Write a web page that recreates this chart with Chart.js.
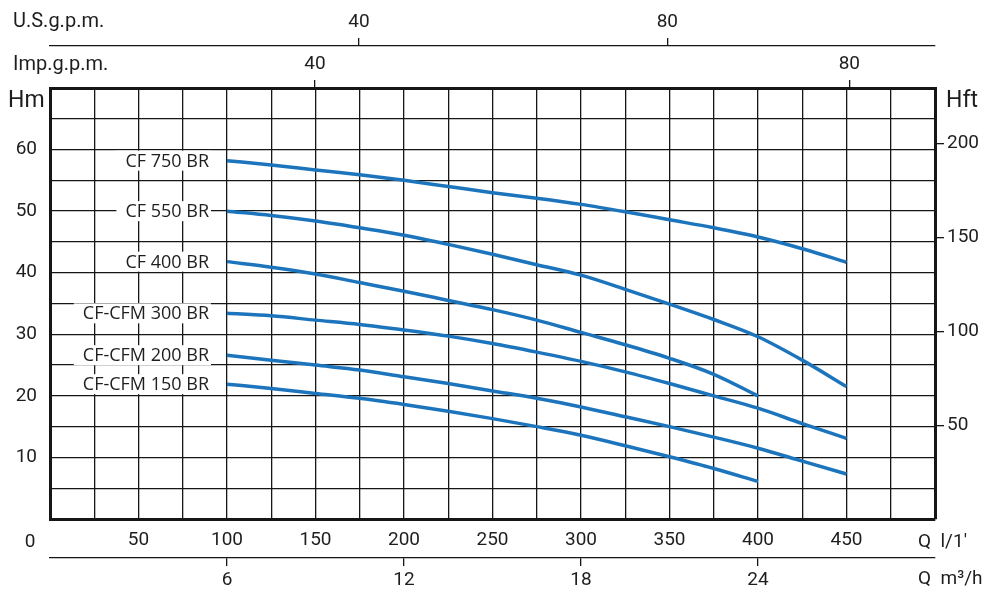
<html>
    <head>
        <style>
            body { margin: 0; background: #fff; }
            #wrap { width: 1001px; height: 599px; position: relative; }
        </style>
    </head>
    <body>
        <div id="wrap">
            <canvas id="pumpChart"></canvas>
        </div>
        <script src="https://cdn.jsdelivr.net/npm/chart.js@4.4.1/dist/chart.umd.min.js"></script>
        <script>
            // flow in l/min, head in m
            const flowLpm = [100, 125, 150, 175, 200, 225, 250, 275, 300, 325, 350, 375, 400, 425, 450];
            const models = [
                "CF 750 BR",
                "CF 550 BR",
                "CF 400 BR",
                "CF-CFM 300 BR",
                "CF-CFM 200 BR",
                "CF-CFM 150 BR"
            ];
            const headCF750 = [58.2, 57.5, 56.7, 55.9, 55.0, 54.0, 53.0, 52.1, 51.1, 49.9, 48.6, 47.3, 45.8, 43.9, 41.7];
            const headCF550 = [50.0, 49.3, 48.4, 47.3, 46.1, 44.6, 43.0, 41.3, 39.6, 37.3, 34.9, 32.4, 29.6, 25.8, 21.5];
            const headCF400 = [41.8, 40.9, 39.8, 38.4, 37.0, 35.5, 34.0, 32.3, 30.3, 28.3, 26.1, 23.5, 20.0];
            const headCFM300 = [33.4, 33.0, 32.3, 31.6, 30.7, 29.7, 28.5, 27.1, 25.6, 23.9, 22.0, 20.0, 18.0, 15.5, 13.1];
            const headCFM200 = [26.6, 25.8, 25.0, 24.2, 23.1, 22.0, 20.8, 19.6, 18.2, 16.6, 15.0, 13.3, 11.5, 9.4, 7.3];
            const headCFM150 = [21.9, 21.2, 20.4, 19.6, 18.6, 17.5, 16.3, 15.0, 13.6, 11.9, 10.1, 8.2, 6.1];
            const heads = [headCF750, headCF550, headCF400, headCFM300, headCFM200, headCFM150];

            // tick labels
            const m3hTicks = [6, 12, 18, 24];
            const hftTicks = [50, 100, 150, 200];
            const usGpmTicks = [40, 80];
            const impGpmTicks = [40, 80];

            const lineColor = "rgb(28,117,188)";
            const gridColor = "#161616";
            const tickFont = { family: "Roboto", size: 19 };
            const txtColor = "#1e1e1e";

            const datasets = heads.map((h, i) => ({
                label: models[i],
                data: h.map((v, j) => ({ x: flowLpm[j], y: v })),
                borderColor: lineColor,
                borderWidth: 3.5,
                pointRadius: 0,
                cubicInterpolationMode: "monotone",
                fill: false,
                xAxisID: "x",
                yAxisID: "y"
            }));

            const curveLabels = {
                id: "curveLabels",
                afterDatasetsDraw(chart) {
                    const ctx = chart.ctx;
                    ctx.save();
                    ctx.font = "18px 'Open Sans'";
                    ctx.textBaseline = "middle";
                    ctx.textAlign = "right";
                    chart.data.datasets.forEach((ds, i) => {
                        const p = chart.getDatasetMeta(i).data[0];
                        const right = p.x - 18;
                        const w = ctx.measureText(ds.label).width;
                        ctx.fillStyle = "#fff";
                        ctx.fillRect(right - w - 9, p.y - 10, w + 11, 20);
                        ctx.fillStyle = txtColor;
                        ctx.fillText(ds.label, right, p.y + 1);
                    });
                    ctx.restore();
                }
            };

            const axisTexts = {
                id: "axisTexts",
                afterDraw(chart) {
                    const ctx = chart.ctx;
                    ctx.save();
                    ctx.fillStyle = txtColor;
                    ctx.textBaseline = "middle";
                    ctx.textAlign = "left";
                    ctx.font = "20px Roboto";
                    ctx.fillText("U.S.g.p.m.", 13, 22);
                    ctx.fillText("Imp.g.p.m.", 13, 65);
                    ctx.font = "23px Roboto";
                    ctx.fillText("Hm", 8, 101);
                    ctx.fillText("Hft", 946, 101);
                    ctx.font = "19px Roboto";
                    ctx.textAlign = "center";
                    ctx.fillText("0", 30, 542);
                    ctx.textAlign = "left";
                    ctx.fillText("Q  l/1'", 918, 542);
                    ctx.fillText("Q  m\u00b3/h", 918, 579);
                    ctx.restore();
                }
            };

            const setTicks = (vals) => (scale) => { scale.ticks = vals.map(v => ({ value: v })); };

            new Chart("pumpChart", {
                type: "line",
                data: { datasets: datasets },
                plugins: [curveLabels, axisTexts],
                options: {
                    responsive: true,
                    maintainAspectRatio: false,
                    animation: false,
                    layout: { padding: 0 },
                    plugins: { legend: { display: false }, tooltip: { enabled: false } },
                    scales: {
                        x: {
                            type: "linear", position: "bottom", weight: 0, min: 0, max: 500,
                            afterFit: s => { s.height = 39; },
                            grid: { color: gridColor, lineWidth: 1.3, drawTicks: false },
                            border: { color: gridColor, width: 3 },
                            ticks: {
                                stepSize: 25, autoSkip: false, maxRotation: 0, padding: 10,
                                color: txtColor, font: tickFont,
                                callback: v => (v % 50 === 0 && v > 0 && v < 500) ? v : ""
                            }
                        },
                        xm3h: {
                            type: "linear", position: "bottom", weight: 1, min: 0, max: 30,
                            afterFit: s => { s.height = 41; },
                            afterBuildTicks: setTicks(m3hTicks),
                            grid: { drawOnChartArea: false, color: gridColor, lineWidth: 1.3, tickLength: 8 },
                            border: { color: gridColor, width: 1.3 },
                            ticks: { autoSkip: false, maxRotation: 0, padding: 3, color: txtColor, font: tickFont }
                        },
                        ximp: {
                            type: "linear", position: "top", weight: 0, min: 20.16, max: 86.41,
                            afterFit: s => { s.height = 42; },
                            afterBuildTicks: setTicks(impGpmTicks),
                            grid: { drawOnChartArea: false, color: gridColor, lineWidth: 1.3, tickLength: 8 },
                            border: { color: gridColor, width: 3 },
                            ticks: { autoSkip: false, maxRotation: 0, padding: 4, color: txtColor, font: tickFont }
                        },
                        xus: {
                            type: "linear", position: "top", weight: 1, min: -0.09, max: 114.73,
                            afterFit: s => { s.height = 46; },
                            afterBuildTicks: setTicks(usGpmTicks),
                            grid: { drawOnChartArea: false, color: gridColor, lineWidth: 1.3, tickLength: 8 },
                            border: { color: gridColor, width: 1.3 },
                            ticks: { autoSkip: false, maxRotation: 0, padding: 4, color: txtColor, font: tickFont }
                        },
                        y: {
                            type: "linear", position: "left", min: 0, max: 70,
                            afterFit: s => { s.width = 50; },
                            grid: { color: gridColor, lineWidth: 1.3, drawTicks: false },
                            border: { color: gridColor, width: 3 },
                            ticks: {
                                stepSize: 5, autoSkip: false, padding: 13, color: txtColor, font: tickFont,
                                callback: v => (v % 10 === 0 && v > 0 && v < 70) ? v : ""
                            }
                        },
                        yft: {
                            type: "linear", position: "right", min: 0, max: 70 / 0.3048,
                            afterFit: s => { s.width = 66; },
                            afterBuildTicks: setTicks(hftTicks),
                            grid: { drawOnChartArea: false, color: gridColor, lineWidth: 1.3, tickLength: 9 },
                            border: { color: gridColor, width: 3 },
                            ticks: { autoSkip: false, padding: 3, color: txtColor, font: tickFont }
                        }
                    }
                }
            });
        </script>
    </body>
</html>
